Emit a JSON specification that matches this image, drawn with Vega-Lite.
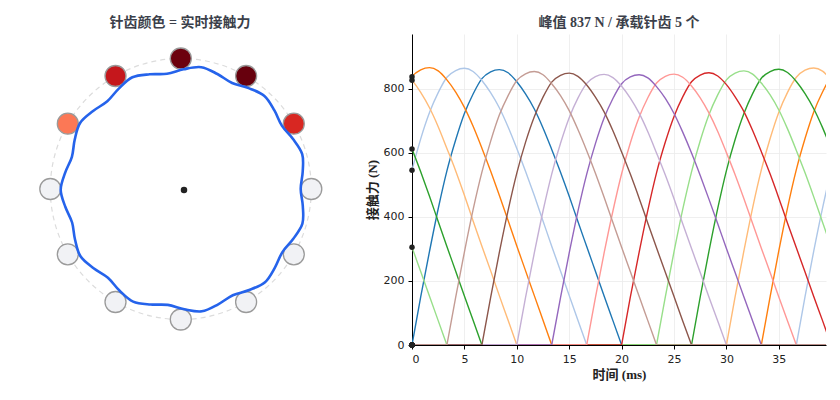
{
  "$schema": "https://vega.github.io/schema/vega-lite/v6.json",
  "background": "white",
  "padding": {"left": 5, "right": 5, "top": 16, "bottom": 5},
  "spacing": 11,
  "config": {
    "view": {"stroke": null},
    "font": "DejaVu Sans",
    "title": {"font": "Liberation Serif, Noto Sans CJK SC", "fontSize": 14, "fontWeight": "bold", "color": "#3b3f4a", "anchor": "middle", "offset": 4},
    "axis": {
      "labelFont": "DejaVu Sans", "labelFontSize": 11, "labelColor": "#222222", "labelPadding": 4,
      "titleFont": "Liberation Serif, Noto Sans CJK SC", "titleFontSize": 13, "titleFontWeight": "bold", "titleColor": "#222222",
      "domainColor": "#000000", "tickColor": "#000000", "tickSize": 4,
      "gridColor": "#ebebeb", "gridWidth": 0.8
    }
  },
  "datasets": {
    "pitch": [{"x": 0, "y": 0}],
    "hub": [{"x": 3.2, "y": -1}],
    "pins": [
      {"pin": "p0", "x": 130.5, "y": 0, "F": 0},
      {"pin": "p1", "x": 113.0, "y": 65.3, "F": 545},
      {"pin": "p2", "x": 65.3, "y": 113.0, "F": 837},
      {"pin": "p3", "x": 0, "y": 130.5, "F": 826},
      {"pin": "p4", "x": -65.3, "y": 113.0, "F": 611},
      {"pin": "p5", "x": -113.0, "y": 65.3, "F": 305},
      {"pin": "p6", "x": -130.5, "y": 0, "F": 0},
      {"pin": "p7", "x": -113.0, "y": -65.3, "F": 0},
      {"pin": "p8", "x": -65.3, "y": -113.0, "F": 0},
      {"pin": "p9", "x": 0, "y": -130.5, "F": 0},
      {"pin": "p10", "x": 65.3, "y": -113.0, "F": 0},
      {"pin": "p11", "x": 113.0, "y": -65.3, "F": 0}
    ],
    "profile": [
      {"i": 0, "x": 20.4, "y": 121.8}, {"i": 1, "x": 2.8, "y": 119.7}, {"i": 2, "x": -13.8, "y": 115.2}, {"i": 3, "x": -31.0, "y": 114.7},
      {"i": 4, "x": -48.4, "y": 111.7}, {"i": 5, "x": -62.0, "y": 100.4}, {"i": 6, "x": -73.5, "y": 87.7}, {"i": 7, "x": -87.7, "y": 78.0},
      {"i": 8, "x": -100.7, "y": 66.0}, {"i": 9, "x": -106.1, "y": 49.2}, {"i": 10, "x": -108.9, "y": 32.2}, {"i": 11, "x": -115.6, "y": 16.4},
      {"i": 12, "x": -120.1, "y": -0.7}, {"i": 13, "x": -115.5, "y": -17.8}, {"i": 14, "x": -108.7, "y": -33.5}, {"i": 15, "x": -105.8, "y": -50.5},
      {"i": 16, "x": -100.3, "y": -67.3}, {"i": 17, "x": -87.2, "y": -79.2}, {"i": 18, "x": -72.9, "y": -88.7}, {"i": 19, "x": -61.4, "y": -101.5},
      {"i": 20, "x": -47.7, "y": -112.6}, {"i": 21, "x": -30.2, "y": -115.5}, {"i": 22, "x": -13.0, "y": -115.9}, {"i": 23, "x": 3.6, "y": -120.3},
      {"i": 24, "x": 21.1, "y": -122.3}, {"i": 25, "x": 37.4, "y": -115.3}, {"i": 26, "x": 52.0, "y": -106.3}, {"i": 27, "x": 68.4, "y": -101.0},
      {"i": 28, "x": 84.2, "y": -93.2}, {"i": 29, "x": 94.1, "y": -78.6}, {"i": 30, "x": 101.6, "y": -63.1}, {"i": 31, "x": 112.5, "y": -49.8},
      {"i": 32, "x": 121.6, "y": -34.7}, {"i": 33, "x": 122.0, "y": -17.0}, {"i": 34, "x": 119.9, "y": 0.1}, {"i": 35, "x": 121.9, "y": 17.2},
      {"i": 36, "x": 121.4, "y": 34.8}, {"i": 37, "x": 112.2, "y": 49.9}, {"i": 38, "x": 101.2, "y": 63.1}, {"i": 39, "x": 93.6, "y": 78.6},
      {"i": 40, "x": 83.6, "y": 93.1}, {"i": 41, "x": 67.8, "y": 100.9}, {"i": 42, "x": 51.3, "y": 106.0}, {"i": 43, "x": 36.6, "y": 115.0}
    ],
    "force": [
      {"pin": "p0", "seg": "p0a", "t": 0, "F": 0}, {"pin": "p0", "seg": "p0a", "t": 0.83, "F": 150}, {"pin": "p0", "seg": "p0a", "t": 1.67, "F": 292},
      {"pin": "p0", "seg": "p0a", "t": 2.5, "F": 425}, {"pin": "p0", "seg": "p0a", "t": 3.33, "F": 543}, {"pin": "p0", "seg": "p0a", "t": 4.17, "F": 640},
      {"pin": "p0", "seg": "p0a", "t": 5, "F": 722}, {"pin": "p0", "seg": "p0a", "t": 5.83, "F": 783}, {"pin": "p0", "seg": "p0a", "t": 6.67, "F": 831},
      {"pin": "p0", "seg": "p0a", "t": 7.5, "F": 852}, {"pin": "p0", "seg": "p0a", "t": 8.33, "F": 859}, {"pin": "p0", "seg": "p0a", "t": 9.17, "F": 849},
      {"pin": "p0", "seg": "p0a", "t": 10, "F": 821}, {"pin": "p0", "seg": "p0a", "t": 10.83, "F": 783}, {"pin": "p0", "seg": "p0a", "t": 11.67, "F": 736},
      {"pin": "p0", "seg": "p0a", "t": 12.5, "F": 677}, {"pin": "p0", "seg": "p0a", "t": 13.33, "F": 610}, {"pin": "p0", "seg": "p0a", "t": 14.17, "F": 539},
      {"pin": "p0", "seg": "p0a", "t": 15, "F": 464}, {"pin": "p0", "seg": "p0a", "t": 15.83, "F": 385}, {"pin": "p0", "seg": "p0a", "t": 16.67, "F": 307},
      {"pin": "p0", "seg": "p0a", "t": 17.5, "F": 230}, {"pin": "p0", "seg": "p0a", "t": 18.33, "F": 153}, {"pin": "p0", "seg": "p0a", "t": 19.17, "F": 76},
      {"pin": "p0", "seg": "p0a", "t": 20, "F": 0},
      {"pin": "p0", "seg": "p0z", "t": 20, "F": 0}, {"pin": "p0", "seg": "p0z", "t": 40, "F": 0},

      {"pin": "p1", "seg": "p1a", "t": -0.83, "F": 427}, {"pin": "p1", "seg": "p1a", "t": 0, "F": 545}, {"pin": "p1", "seg": "p1a", "t": 0.83, "F": 643},
      {"pin": "p1", "seg": "p1a", "t": 1.67, "F": 725}, {"pin": "p1", "seg": "p1a", "t": 2.5, "F": 787}, {"pin": "p1", "seg": "p1a", "t": 3.33, "F": 835},
      {"pin": "p1", "seg": "p1a", "t": 4.17, "F": 856}, {"pin": "p1", "seg": "p1a", "t": 5, "F": 863}, {"pin": "p1", "seg": "p1a", "t": 5.83, "F": 853},
      {"pin": "p1", "seg": "p1a", "t": 6.67, "F": 825}, {"pin": "p1", "seg": "p1a", "t": 7.5, "F": 787}, {"pin": "p1", "seg": "p1a", "t": 8.33, "F": 740},
      {"pin": "p1", "seg": "p1a", "t": 9.17, "F": 680}, {"pin": "p1", "seg": "p1a", "t": 10, "F": 613}, {"pin": "p1", "seg": "p1a", "t": 10.83, "F": 542},
      {"pin": "p1", "seg": "p1a", "t": 11.67, "F": 466}, {"pin": "p1", "seg": "p1a", "t": 12.5, "F": 387}, {"pin": "p1", "seg": "p1a", "t": 13.33, "F": 308},
      {"pin": "p1", "seg": "p1a", "t": 14.17, "F": 231}, {"pin": "p1", "seg": "p1a", "t": 15, "F": 154}, {"pin": "p1", "seg": "p1a", "t": 15.83, "F": 77},
      {"pin": "p1", "seg": "p1a", "t": 16.67, "F": 0},
      {"pin": "p1", "seg": "p1b", "t": 36.67, "F": 0}, {"pin": "p1", "seg": "p1b", "t": 37.5, "F": 151}, {"pin": "p1", "seg": "p1b", "t": 38.33, "F": 293},
      {"pin": "p1", "seg": "p1b", "t": 39.17, "F": 427}, {"pin": "p1", "seg": "p1b", "t": 40, "F": 545}, {"pin": "p1", "seg": "p1b", "t": 40.83, "F": 643},
      {"pin": "p1", "seg": "p1z", "t": 16.67, "F": 0}, {"pin": "p1", "seg": "p1z", "t": 36.67, "F": 0},

      {"pin": "p2", "seg": "p2a", "t": -0.83, "F": 789}, {"pin": "p2", "seg": "p2a", "t": 0, "F": 837}, {"pin": "p2", "seg": "p2a", "t": 0.83, "F": 858},
      {"pin": "p2", "seg": "p2a", "t": 1.67, "F": 865}, {"pin": "p2", "seg": "p2a", "t": 2.5, "F": 855}, {"pin": "p2", "seg": "p2a", "t": 3.33, "F": 827},
      {"pin": "p2", "seg": "p2a", "t": 4.17, "F": 789}, {"pin": "p2", "seg": "p2a", "t": 5, "F": 741}, {"pin": "p2", "seg": "p2a", "t": 5.83, "F": 682},
      {"pin": "p2", "seg": "p2a", "t": 6.67, "F": 614}, {"pin": "p2", "seg": "p2a", "t": 7.5, "F": 543}, {"pin": "p2", "seg": "p2a", "t": 8.33, "F": 467},
      {"pin": "p2", "seg": "p2a", "t": 9.17, "F": 388}, {"pin": "p2", "seg": "p2a", "t": 10, "F": 309}, {"pin": "p2", "seg": "p2a", "t": 10.83, "F": 232},
      {"pin": "p2", "seg": "p2a", "t": 11.67, "F": 154}, {"pin": "p2", "seg": "p2a", "t": 12.5, "F": 77}, {"pin": "p2", "seg": "p2a", "t": 13.33, "F": 0},
      {"pin": "p2", "seg": "p2b", "t": 33.33, "F": 0}, {"pin": "p2", "seg": "p2b", "t": 34.17, "F": 151}, {"pin": "p2", "seg": "p2b", "t": 35, "F": 294},
      {"pin": "p2", "seg": "p2b", "t": 35.83, "F": 428}, {"pin": "p2", "seg": "p2b", "t": 36.67, "F": 547}, {"pin": "p2", "seg": "p2b", "t": 37.5, "F": 644},
      {"pin": "p2", "seg": "p2b", "t": 38.33, "F": 727}, {"pin": "p2", "seg": "p2b", "t": 39.17, "F": 789}, {"pin": "p2", "seg": "p2b", "t": 40, "F": 837},
      {"pin": "p2", "seg": "p2b", "t": 40.83, "F": 858},
      {"pin": "p2", "seg": "p2z", "t": 13.33, "F": 0}, {"pin": "p2", "seg": "p2z", "t": 33.33, "F": 0},

      {"pin": "p3", "seg": "p3a", "t": -0.83, "F": 854}, {"pin": "p3", "seg": "p3a", "t": 0, "F": 826}, {"pin": "p3", "seg": "p3a", "t": 0.83, "F": 788},
      {"pin": "p3", "seg": "p3a", "t": 1.67, "F": 740}, {"pin": "p3", "seg": "p3a", "t": 2.5, "F": 681}, {"pin": "p3", "seg": "p3a", "t": 3.33, "F": 613},
      {"pin": "p3", "seg": "p3a", "t": 4.17, "F": 543}, {"pin": "p3", "seg": "p3a", "t": 5, "F": 467}, {"pin": "p3", "seg": "p3a", "t": 5.83, "F": 387},
      {"pin": "p3", "seg": "p3a", "t": 6.67, "F": 308}, {"pin": "p3", "seg": "p3a", "t": 7.5, "F": 232}, {"pin": "p3", "seg": "p3a", "t": 8.33, "F": 154},
      {"pin": "p3", "seg": "p3a", "t": 9.17, "F": 77}, {"pin": "p3", "seg": "p3a", "t": 10, "F": 0},
      {"pin": "p3", "seg": "p3b", "t": 30, "F": 0}, {"pin": "p3", "seg": "p3b", "t": 30.83, "F": 151}, {"pin": "p3", "seg": "p3b", "t": 31.67, "F": 294},
      {"pin": "p3", "seg": "p3b", "t": 32.5, "F": 428}, {"pin": "p3", "seg": "p3b", "t": 33.33, "F": 546}, {"pin": "p3", "seg": "p3b", "t": 34.17, "F": 644},
      {"pin": "p3", "seg": "p3b", "t": 35, "F": 726}, {"pin": "p3", "seg": "p3b", "t": 35.83, "F": 788}, {"pin": "p3", "seg": "p3b", "t": 36.67, "F": 835},
      {"pin": "p3", "seg": "p3b", "t": 37.5, "F": 857}, {"pin": "p3", "seg": "p3b", "t": 38.33, "F": 864}, {"pin": "p3", "seg": "p3b", "t": 39.17, "F": 854},
      {"pin": "p3", "seg": "p3b", "t": 40, "F": 826}, {"pin": "p3", "seg": "p3b", "t": 40.83, "F": 788},
      {"pin": "p3", "seg": "p3z", "t": 10, "F": 0}, {"pin": "p3", "seg": "p3z", "t": 30, "F": 0},

      {"pin": "p4", "seg": "p4a", "t": -0.83, "F": 678}, {"pin": "p4", "seg": "p4a", "t": 0, "F": 611}, {"pin": "p4", "seg": "p4a", "t": 0.83, "F": 540},
      {"pin": "p4", "seg": "p4a", "t": 1.67, "F": 464}, {"pin": "p4", "seg": "p4a", "t": 2.5, "F": 385}, {"pin": "p4", "seg": "p4a", "t": 3.33, "F": 307},
      {"pin": "p4", "seg": "p4a", "t": 4.17, "F": 230}, {"pin": "p4", "seg": "p4a", "t": 5, "F": 153}, {"pin": "p4", "seg": "p4a", "t": 5.83, "F": 77},
      {"pin": "p4", "seg": "p4a", "t": 6.67, "F": 0},
      {"pin": "p4", "seg": "p4b", "t": 26.67, "F": 0}, {"pin": "p4", "seg": "p4b", "t": 27.5, "F": 150}, {"pin": "p4", "seg": "p4b", "t": 28.33, "F": 292},
      {"pin": "p4", "seg": "p4b", "t": 29.17, "F": 426}, {"pin": "p4", "seg": "p4b", "t": 30, "F": 544}, {"pin": "p4", "seg": "p4b", "t": 30.83, "F": 641},
      {"pin": "p4", "seg": "p4b", "t": 31.67, "F": 722}, {"pin": "p4", "seg": "p4b", "t": 32.5, "F": 784}, {"pin": "p4", "seg": "p4b", "t": 33.33, "F": 832},
      {"pin": "p4", "seg": "p4b", "t": 34.17, "F": 853}, {"pin": "p4", "seg": "p4b", "t": 35, "F": 860}, {"pin": "p4", "seg": "p4b", "t": 35.83, "F": 850},
      {"pin": "p4", "seg": "p4b", "t": 36.67, "F": 822}, {"pin": "p4", "seg": "p4b", "t": 37.5, "F": 784}, {"pin": "p4", "seg": "p4b", "t": 38.33, "F": 737},
      {"pin": "p4", "seg": "p4b", "t": 39.17, "F": 678}, {"pin": "p4", "seg": "p4b", "t": 40, "F": 611}, {"pin": "p4", "seg": "p4b", "t": 40.83, "F": 540},
      {"pin": "p4", "seg": "p4z", "t": 6.67, "F": 0}, {"pin": "p4", "seg": "p4z", "t": 26.67, "F": 0},

      {"pin": "p5", "seg": "p5a", "t": -0.83, "F": 383}, {"pin": "p5", "seg": "p5a", "t": 0, "F": 305}, {"pin": "p5", "seg": "p5a", "t": 0.83, "F": 229},
      {"pin": "p5", "seg": "p5a", "t": 1.67, "F": 152}, {"pin": "p5", "seg": "p5a", "t": 2.5, "F": 76}, {"pin": "p5", "seg": "p5a", "t": 3.33, "F": 0},
      {"pin": "p5", "seg": "p5b", "t": 23.33, "F": 0}, {"pin": "p5", "seg": "p5b", "t": 24.17, "F": 150}, {"pin": "p5", "seg": "p5b", "t": 25, "F": 291},
      {"pin": "p5", "seg": "p5b", "t": 25.83, "F": 423}, {"pin": "p5", "seg": "p5b", "t": 26.67, "F": 540}, {"pin": "p5", "seg": "p5b", "t": 27.5, "F": 637},
      {"pin": "p5", "seg": "p5b", "t": 28.33, "F": 718}, {"pin": "p5", "seg": "p5b", "t": 29.17, "F": 780}, {"pin": "p5", "seg": "p5b", "t": 30, "F": 827},
      {"pin": "p5", "seg": "p5b", "t": 30.83, "F": 848}, {"pin": "p5", "seg": "p5b", "t": 31.67, "F": 855}, {"pin": "p5", "seg": "p5b", "t": 32.5, "F": 845},
      {"pin": "p5", "seg": "p5b", "t": 33.33, "F": 817}, {"pin": "p5", "seg": "p5b", "t": 34.17, "F": 780}, {"pin": "p5", "seg": "p5b", "t": 35, "F": 733},
      {"pin": "p5", "seg": "p5b", "t": 35.83, "F": 674}, {"pin": "p5", "seg": "p5b", "t": 36.67, "F": 607}, {"pin": "p5", "seg": "p5b", "t": 37.5, "F": 537},
      {"pin": "p5", "seg": "p5b", "t": 38.33, "F": 462}, {"pin": "p5", "seg": "p5b", "t": 39.17, "F": 383}, {"pin": "p5", "seg": "p5b", "t": 40, "F": 305},
      {"pin": "p5", "seg": "p5b", "t": 40.83, "F": 229},
      {"pin": "p5", "seg": "p5z", "t": 3.33, "F": 0}, {"pin": "p5", "seg": "p5z", "t": 23.33, "F": 0},

      {"pin": "p6", "seg": "p6a", "t": 20, "F": 0}, {"pin": "p6", "seg": "p6a", "t": 20.83, "F": 149}, {"pin": "p6", "seg": "p6a", "t": 21.67, "F": 289},
      {"pin": "p6", "seg": "p6a", "t": 22.5, "F": 420}, {"pin": "p6", "seg": "p6a", "t": 23.33, "F": 537}, {"pin": "p6", "seg": "p6a", "t": 24.17, "F": 633},
      {"pin": "p6", "seg": "p6a", "t": 25, "F": 713}, {"pin": "p6", "seg": "p6a", "t": 25.83, "F": 774}, {"pin": "p6", "seg": "p6a", "t": 26.67, "F": 821},
      {"pin": "p6", "seg": "p6a", "t": 27.5, "F": 842}, {"pin": "p6", "seg": "p6a", "t": 28.33, "F": 849}, {"pin": "p6", "seg": "p6a", "t": 29.17, "F": 839},
      {"pin": "p6", "seg": "p6a", "t": 30, "F": 812}, {"pin": "p6", "seg": "p6a", "t": 30.83, "F": 774}, {"pin": "p6", "seg": "p6a", "t": 31.67, "F": 728},
      {"pin": "p6", "seg": "p6a", "t": 32.5, "F": 669}, {"pin": "p6", "seg": "p6a", "t": 33.33, "F": 603}, {"pin": "p6", "seg": "p6a", "t": 34.17, "F": 533},
      {"pin": "p6", "seg": "p6a", "t": 35, "F": 458}, {"pin": "p6", "seg": "p6a", "t": 35.83, "F": 380}, {"pin": "p6", "seg": "p6a", "t": 36.67, "F": 303},
      {"pin": "p6", "seg": "p6a", "t": 37.5, "F": 228}, {"pin": "p6", "seg": "p6a", "t": 38.33, "F": 151}, {"pin": "p6", "seg": "p6a", "t": 39.17, "F": 76},
      {"pin": "p6", "seg": "p6a", "t": 40, "F": 0},
      {"pin": "p6", "seg": "p6z", "t": 0, "F": 0}, {"pin": "p6", "seg": "p6z", "t": 20, "F": 0},

      {"pin": "p7", "seg": "p7a", "t": 16.67, "F": 0}, {"pin": "p7", "seg": "p7a", "t": 17.5, "F": 148}, {"pin": "p7", "seg": "p7a", "t": 18.33, "F": 287},
      {"pin": "p7", "seg": "p7a", "t": 19.17, "F": 418}, {"pin": "p7", "seg": "p7a", "t": 20, "F": 534}, {"pin": "p7", "seg": "p7a", "t": 20.83, "F": 630},
      {"pin": "p7", "seg": "p7a", "t": 21.67, "F": 710}, {"pin": "p7", "seg": "p7a", "t": 22.5, "F": 771}, {"pin": "p7", "seg": "p7a", "t": 23.33, "F": 817},
      {"pin": "p7", "seg": "p7a", "t": 24.17, "F": 838}, {"pin": "p7", "seg": "p7a", "t": 25, "F": 845}, {"pin": "p7", "seg": "p7a", "t": 25.83, "F": 835},
      {"pin": "p7", "seg": "p7a", "t": 26.67, "F": 808}, {"pin": "p7", "seg": "p7a", "t": 27.5, "F": 771}, {"pin": "p7", "seg": "p7a", "t": 28.33, "F": 724},
      {"pin": "p7", "seg": "p7a", "t": 29.17, "F": 666}, {"pin": "p7", "seg": "p7a", "t": 30, "F": 600}, {"pin": "p7", "seg": "p7a", "t": 30.83, "F": 531},
      {"pin": "p7", "seg": "p7a", "t": 31.67, "F": 456}, {"pin": "p7", "seg": "p7a", "t": 32.5, "F": 379}, {"pin": "p7", "seg": "p7a", "t": 33.33, "F": 302},
      {"pin": "p7", "seg": "p7a", "t": 34.17, "F": 226}, {"pin": "p7", "seg": "p7a", "t": 35, "F": 150}, {"pin": "p7", "seg": "p7a", "t": 35.83, "F": 75},
      {"pin": "p7", "seg": "p7a", "t": 36.67, "F": 0},
      {"pin": "p7", "seg": "p7z1", "t": 0, "F": 0}, {"pin": "p7", "seg": "p7z1", "t": 16.67, "F": 0},
      {"pin": "p7", "seg": "p7z2", "t": 36.67, "F": 0}, {"pin": "p7", "seg": "p7z2", "t": 40, "F": 0},

      {"pin": "p8", "seg": "p8a", "t": 13.33, "F": 0}, {"pin": "p8", "seg": "p8a", "t": 14.17, "F": 148}, {"pin": "p8", "seg": "p8a", "t": 15, "F": 287},
      {"pin": "p8", "seg": "p8a", "t": 15.83, "F": 417}, {"pin": "p8", "seg": "p8a", "t": 16.67, "F": 533}, {"pin": "p8", "seg": "p8a", "t": 17.5, "F": 628},
      {"pin": "p8", "seg": "p8a", "t": 18.33, "F": 708}, {"pin": "p8", "seg": "p8a", "t": 19.17, "F": 769}, {"pin": "p8", "seg": "p8a", "t": 20, "F": 815},
      {"pin": "p8", "seg": "p8a", "t": 20.83, "F": 836}, {"pin": "p8", "seg": "p8a", "t": 21.67, "F": 843}, {"pin": "p8", "seg": "p8a", "t": 22.5, "F": 833},
      {"pin": "p8", "seg": "p8a", "t": 23.33, "F": 806}, {"pin": "p8", "seg": "p8a", "t": 24.17, "F": 769}, {"pin": "p8", "seg": "p8a", "t": 25, "F": 722},
      {"pin": "p8", "seg": "p8a", "t": 25.83, "F": 664}, {"pin": "p8", "seg": "p8a", "t": 26.67, "F": 599}, {"pin": "p8", "seg": "p8a", "t": 27.5, "F": 529},
      {"pin": "p8", "seg": "p8a", "t": 28.33, "F": 455}, {"pin": "p8", "seg": "p8a", "t": 29.17, "F": 378}, {"pin": "p8", "seg": "p8a", "t": 30, "F": 301},
      {"pin": "p8", "seg": "p8a", "t": 30.83, "F": 226}, {"pin": "p8", "seg": "p8a", "t": 31.67, "F": 150}, {"pin": "p8", "seg": "p8a", "t": 32.5, "F": 75},
      {"pin": "p8", "seg": "p8a", "t": 33.33, "F": 0},
      {"pin": "p8", "seg": "p8z1", "t": 0, "F": 0}, {"pin": "p8", "seg": "p8z1", "t": 13.33, "F": 0},
      {"pin": "p8", "seg": "p8z2", "t": 33.33, "F": 0}, {"pin": "p8", "seg": "p8z2", "t": 40, "F": 0},

      {"pin": "p9", "seg": "p9a", "t": 10, "F": 0}, {"pin": "p9", "seg": "p9a", "t": 10.83, "F": 148}, {"pin": "p9", "seg": "p9a", "t": 11.67, "F": 287},
      {"pin": "p9", "seg": "p9a", "t": 12.5, "F": 418}, {"pin": "p9", "seg": "p9a", "t": 13.33, "F": 533}, {"pin": "p9", "seg": "p9a", "t": 14.17, "F": 629},
      {"pin": "p9", "seg": "p9a", "t": 15, "F": 709}, {"pin": "p9", "seg": "p9a", "t": 15.83, "F": 770}, {"pin": "p9", "seg": "p9a", "t": 16.67, "F": 816},
      {"pin": "p9", "seg": "p9a", "t": 17.5, "F": 837}, {"pin": "p9", "seg": "p9a", "t": 18.33, "F": 844}, {"pin": "p9", "seg": "p9a", "t": 19.17, "F": 834},
      {"pin": "p9", "seg": "p9a", "t": 20, "F": 807}, {"pin": "p9", "seg": "p9a", "t": 20.83, "F": 770}, {"pin": "p9", "seg": "p9a", "t": 21.67, "F": 723},
      {"pin": "p9", "seg": "p9a", "t": 22.5, "F": 665}, {"pin": "p9", "seg": "p9a", "t": 23.33, "F": 599}, {"pin": "p9", "seg": "p9a", "t": 24.17, "F": 530},
      {"pin": "p9", "seg": "p9a", "t": 25, "F": 456}, {"pin": "p9", "seg": "p9a", "t": 25.83, "F": 378}, {"pin": "p9", "seg": "p9a", "t": 26.67, "F": 301},
      {"pin": "p9", "seg": "p9a", "t": 27.5, "F": 226}, {"pin": "p9", "seg": "p9a", "t": 28.33, "F": 150}, {"pin": "p9", "seg": "p9a", "t": 29.17, "F": 75},
      {"pin": "p9", "seg": "p9a", "t": 30, "F": 0},
      {"pin": "p9", "seg": "p9z1", "t": 0, "F": 0}, {"pin": "p9", "seg": "p9z1", "t": 10, "F": 0},
      {"pin": "p9", "seg": "p9z2", "t": 30, "F": 0}, {"pin": "p9", "seg": "p9z2", "t": 40, "F": 0},

      {"pin": "p10", "seg": "p10a", "t": 6.67, "F": 0}, {"pin": "p10", "seg": "p10a", "t": 7.5, "F": 148}, {"pin": "p10", "seg": "p10a", "t": 8.33, "F": 288},
      {"pin": "p10", "seg": "p10a", "t": 9.17, "F": 420}, {"pin": "p10", "seg": "p10a", "t": 10, "F": 536}, {"pin": "p10", "seg": "p10a", "t": 10.83, "F": 632},
      {"pin": "p10", "seg": "p10a", "t": 11.67, "F": 712}, {"pin": "p10", "seg": "p10a", "t": 12.5, "F": 773}, {"pin": "p10", "seg": "p10a", "t": 13.33, "F": 820},
      {"pin": "p10", "seg": "p10a", "t": 14.17, "F": 841}, {"pin": "p10", "seg": "p10a", "t": 15, "F": 848}, {"pin": "p10", "seg": "p10a", "t": 15.83, "F": 838},
      {"pin": "p10", "seg": "p10a", "t": 16.67, "F": 811}, {"pin": "p10", "seg": "p10a", "t": 17.5, "F": 773}, {"pin": "p10", "seg": "p10a", "t": 18.33, "F": 727},
      {"pin": "p10", "seg": "p10a", "t": 19.17, "F": 668}, {"pin": "p10", "seg": "p10a", "t": 20, "F": 602}, {"pin": "p10", "seg": "p10a", "t": 20.83, "F": 533},
      {"pin": "p10", "seg": "p10a", "t": 21.67, "F": 458}, {"pin": "p10", "seg": "p10a", "t": 22.5, "F": 380}, {"pin": "p10", "seg": "p10a", "t": 23.33, "F": 303},
      {"pin": "p10", "seg": "p10a", "t": 24.17, "F": 227}, {"pin": "p10", "seg": "p10a", "t": 25, "F": 151}, {"pin": "p10", "seg": "p10a", "t": 25.83, "F": 75},
      {"pin": "p10", "seg": "p10a", "t": 26.67, "F": 0},
      {"pin": "p10", "seg": "p10z1", "t": 0, "F": 0}, {"pin": "p10", "seg": "p10z1", "t": 6.67, "F": 0},
      {"pin": "p10", "seg": "p10z2", "t": 26.67, "F": 0}, {"pin": "p10", "seg": "p10z2", "t": 40, "F": 0},

      {"pin": "p11", "seg": "p11a", "t": 3.33, "F": 0}, {"pin": "p11", "seg": "p11a", "t": 4.17, "F": 149}, {"pin": "p11", "seg": "p11a", "t": 5, "F": 290},
      {"pin": "p11", "seg": "p11a", "t": 5.83, "F": 422}, {"pin": "p11", "seg": "p11a", "t": 6.67, "F": 539}, {"pin": "p11", "seg": "p11a", "t": 7.5, "F": 635},
      {"pin": "p11", "seg": "p11a", "t": 8.33, "F": 717}, {"pin": "p11", "seg": "p11a", "t": 9.17, "F": 778}, {"pin": "p11", "seg": "p11a", "t": 10, "F": 825},
      {"pin": "p11", "seg": "p11a", "t": 10.83, "F": 846}, {"pin": "p11", "seg": "p11a", "t": 11.67, "F": 853}, {"pin": "p11", "seg": "p11a", "t": 12.5, "F": 843},
      {"pin": "p11", "seg": "p11a", "t": 13.33, "F": 815}, {"pin": "p11", "seg": "p11a", "t": 14.17, "F": 778}, {"pin": "p11", "seg": "p11a", "t": 15, "F": 731},
      {"pin": "p11", "seg": "p11a", "t": 15.83, "F": 672}, {"pin": "p11", "seg": "p11a", "t": 16.67, "F": 606}, {"pin": "p11", "seg": "p11a", "t": 17.5, "F": 536},
      {"pin": "p11", "seg": "p11a", "t": 18.33, "F": 461}, {"pin": "p11", "seg": "p11a", "t": 19.17, "F": 382}, {"pin": "p11", "seg": "p11a", "t": 20, "F": 305},
      {"pin": "p11", "seg": "p11a", "t": 20.83, "F": 229}, {"pin": "p11", "seg": "p11a", "t": 21.67, "F": 152}, {"pin": "p11", "seg": "p11a", "t": 22.5, "F": 76},
      {"pin": "p11", "seg": "p11a", "t": 23.33, "F": 0},
      {"pin": "p11", "seg": "p11z1", "t": 0, "F": 0}, {"pin": "p11", "seg": "p11z1", "t": 3.33, "F": 0},
      {"pin": "p11", "seg": "p11z2", "t": 23.33, "F": 0}, {"pin": "p11", "seg": "p11z2", "t": 40, "F": 0}
    ]
  },
  "hconcat": [
    {
      "width": 350,
      "height": 311,
      "title": "针齿颜色 = 实时接触力",
      "encoding": {
        "x": {"field": "x", "type": "quantitative", "scale": {"domain": [-175.8, 174.2], "nice": false, "zero": false}, "axis": null},
        "y": {"field": "y", "type": "quantitative", "scale": {"domain": [-156, 155], "nice": false, "zero": false}, "axis": null}
      },
      "layer": [
        {
          "data": {"name": "pitch"},
          "mark": {"type": "point", "shape": "circle", "size": 68121, "filled": false, "stroke": "#dcdcdc", "strokeWidth": 1.2, "strokeDash": [5, 4], "opacity": 1}
        },
        {
          "data": {"name": "pins"},
          "mark": {"type": "point", "shape": "circle", "size": 441, "filled": true, "stroke": "#9a9a9a", "strokeWidth": 1.3, "opacity": 1},
          "encoding": {
            "fill": {
              "condition": {
                "test": "datum.F > 0", "field": "F", "type": "quantitative", "legend": null,
                "scale": {
                  "domain": [-148, -24.9, 98.25, 221.4, 344.5, 467.6, 590.75, 713.9, 837],
                  "range": ["#fff5f0", "#fee0d2", "#fcbba1", "#fc9272", "#fb6a4a", "#ef3b2c", "#cb181d", "#a50f15", "#67000d"],
                  "nice": false, "zero": false
                }
              },
              "value": "#f1f2f5"
            }
          }
        },
        {
          "data": {"name": "profile"},
          "mark": {"type": "line", "interpolate": "cardinal-closed", "tension": 0, "color": "#2563eb", "strokeWidth": 2.6},
          "encoding": {"order": {"field": "i", "type": "quantitative"}}
        },
        {
          "data": {"name": "hub"},
          "mark": {"type": "point", "shape": "circle", "filled": true, "size": 42, "color": "#222222", "opacity": 1}
        }
      ]
    },
    {
      "width": 414,
      "height": 311,
      "title": "峰值 837 N / 承载针齿 5 个",
      "layer": [
        {
          "data": {"name": "force"},
          "mark": {"type": "line", "interpolate": "monotone", "strokeWidth": 1.4, "clip": true},
          "encoding": {
            "x": {"field": "t", "type": "quantitative", "scale": {"domain": [0, 39.5], "nice": false, "zero": false},
                  "axis": {"title": "时间 (ms)", "values": [0, 5, 10, 15, 20, 25, 30, 35]}},
            "y": {"field": "F", "type": "quantitative", "scale": {"domain": [0, 970], "nice": false},
                  "axis": {"title": "接触力 (N)", "values": [0, 200, 400, 600, 800]}},
            "color": {
              "field": "pin", "type": "nominal", "legend": null,
              "scale": {
                "domain": ["p0", "p1", "p2", "p3", "p4", "p5", "p6", "p7", "p8", "p9", "p10", "p11"],
                "range": ["#1f77b4", "#aec7e8", "#ff7f0e", "#ffbb78", "#2ca02c", "#98df8a", "#d62728", "#ff9896", "#9467bd", "#c5b0d5", "#8c564b", "#c49c94"]
              }
            },
            "detail": {"field": "seg", "type": "nominal"}
          }
        },
        {
          "data": {"name": "pins"},
          "mark": {"type": "point", "shape": "circle", "filled": true, "size": 30, "color": "#222222", "opacity": 1},
          "encoding": {
            "x": {"datum": 0, "type": "quantitative"},
            "y": {"field": "F", "type": "quantitative"}
          }
        }
      ]
    }
  ]
}
